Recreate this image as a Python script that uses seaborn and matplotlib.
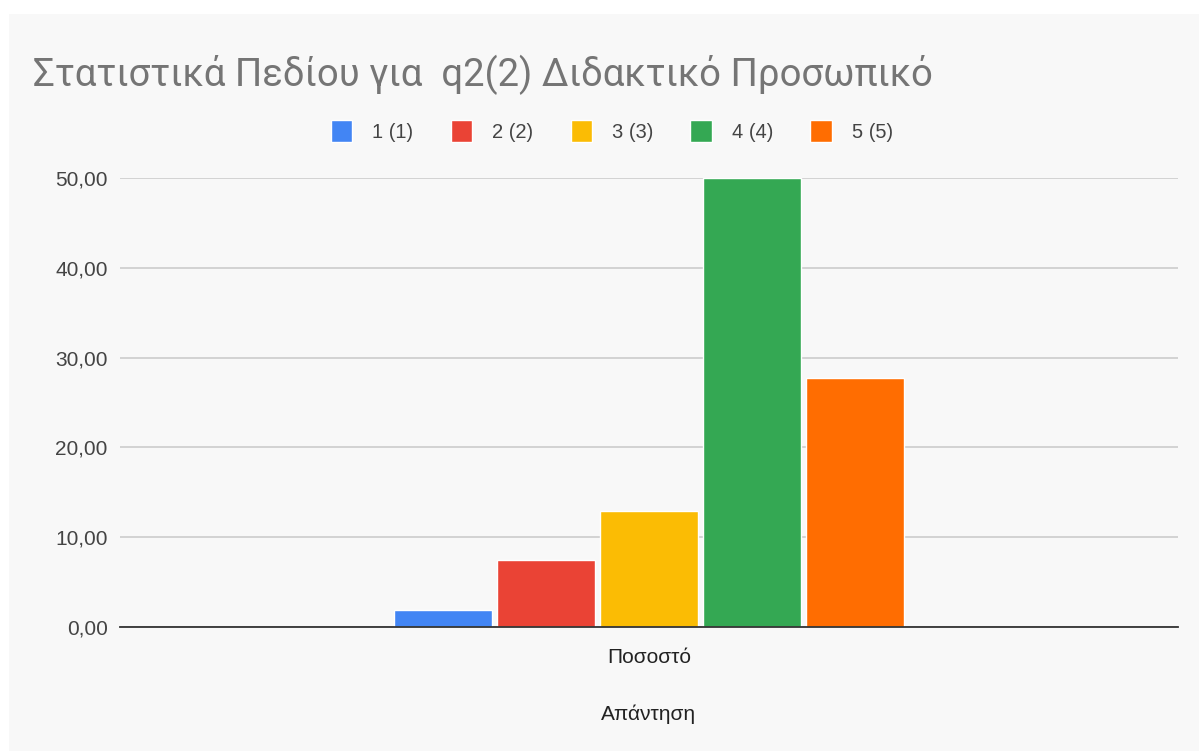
import matplotlib
matplotlib.use("Agg")
from matplotlib import pyplot as plt
from matplotlib.patches import Rectangle
import pandas as pd
import seaborn as sns

# data
answers = ["1 (1)", "2 (2)", "3 (3)", "4 (4)", "5 (5)"]
percent = [1.85, 7.41, 12.96, 50.0, 27.78]
category = "Ποσοστό"
colors = ["#4285F4", "#EA4335", "#FBBC04", "#34A853", "#FF6D01"]
yticks = [0, 10, 20, 30, 40, 50]

df = pd.DataFrame({"cat": [category] * len(answers),
                   "answer": answers, "value": percent})

sns.set_style("white")
plt.rcParams["font.family"] = ["Liberation Sans", "DejaVu Sans"]

W, H = 1199, 751
fig = plt.figure(figsize=(W / 100, H / 100), dpi=100)
fig.patch.set_facecolor("white")
fig.add_artist(Rectangle((9 / W, 0), 1 - 9 / W, 1 - 14 / H,
                         transform=fig.transFigure, facecolor="#f8f8f8",
                         edgecolor="none", zorder=0))

ax = fig.add_axes([120 / W, 1 - 627 / H, (1178 - 120) / W, (627 - 178) / H])
ax.set_facecolor("#f8f8f8")

sns.barplot(data=df, x="cat", y="value", hue="answer", palette=colors,
            width=0.486, gap=0.05, ax=ax, saturation=1)

ax.set_ylim(0, 50)
ax.set_yticks(yticks)
ax.set_yticklabels([f"{v:.2f}".replace(".", ",") for v in yticks],
                   fontsize=15, color="#444444")
ax.tick_params(axis="y", length=0, pad=9)
ax.tick_params(axis="x", length=0, pad=15, labelsize=15, labelcolor="#222222")
ax.yaxis.grid(True, color="#cccccc", linewidth=1.2)
ax.set_axisbelow(True)
for s in ["top", "right", "left"]:
    ax.spines[s].set_visible(False)
ax.spines["bottom"].set_color("#333333")
ax.spines["bottom"].set_linewidth(1.3)
ax.set_ylabel("")
ax.set_xlabel("Απάντηση", fontsize=15, color="#222222", labelpad=27)

sns.move_legend(ax, "center", bbox_to_anchor=(612 / W, 1 - 131 / H),
                bbox_transform=fig.transFigure, ncol=5, frameon=False,
                title=None, fontsize=14.5, handlelength=1.05, handleheight=1.3,
                columnspacing=1.85, handletextpad=1.0)
for t in ax.get_legend().get_texts():
    t.set_color("#444444")

fig.text(33 / W, 1 - 75 / H, "Στατιστικά Πεδίου για  q2(2) Διδακτικό Προσωπικό",
         fontsize=27.5, color="#757575", va="center", ha="left",
         family=["Roboto", "DejaVu Sans"])

fig.savefig("out.png", dpi=100)
